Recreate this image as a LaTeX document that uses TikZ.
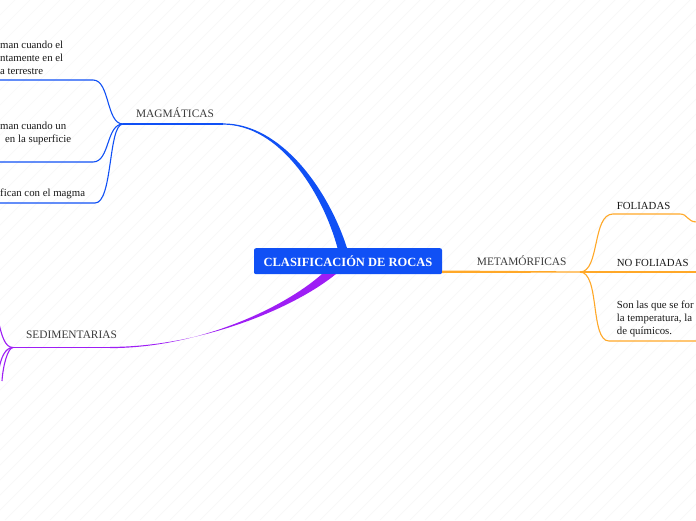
\documentclass[tikz,border=0pt]{standalone}
\usepackage{fontspec}
\setmainfont{Liberation Serif}
\usetikzlibrary{calc}
\definecolor{mblue}{RGB}{16,80,245}
\definecolor{mpurple}{RGB}{158,30,245}
\definecolor{morange}{RGB}{255,168,40}
\definecolor{lbl}{RGB}{60,60,60}
\definecolor{txt}{RGB}{25,25,25}
\definecolor{stripe}{RGB}{248,248,248}
\begin{document}
\begin{tikzpicture}[x=1pt,y=-1pt,
  lblnode/.style={inner sep=0pt,text=lbl,font=\fontsize{11.4}{13}\selectfont},
  txtnode/.style={inner sep=0pt,text=txt,align=left,anchor=west,font=\fontsize{10.8}{13}\selectfont},
  thin branch/.style={line width=1.1pt},
]
\useasboundingbox (0,0) rectangle (696,520);
\fill[white] (0,0) rectangle (696,520);
\begin{scope}
\clip (0,0) rectangle (696,520);
\foreach \i in {-520,-505,...,700} \draw[stripe,line width=0.7pt] (\i,520) -- (\i+520,0);
\end{scope}

% root
\node[fill=mblue,rounded corners=2pt,minimum width=188pt,minimum height=26pt,inner sep=0pt,
      text=white,font=\bfseries\fontsize{12.5}{14}\selectfont] (root) at (348,261.2) {CLASIFICACIÓN DE ROCAS};

% ---------- MAGMATICAS (blue) ----------
\coordinate (mend) at (223,124);
\coordinate (mjoint) at (123,124);
\node[lblnode] (magm) at (175,112.3) {MAGMÁTICAS};
\fill[mblue] ($(mend)+(0,-0.6)$) .. controls (281,123.4) and (328,189) .. (root.north -| 347,0)
  -- (root.north -| 337.5,0) .. controls (322,191) and (279,124.6) .. ($(mend)+(0,0.6)$) -- cycle;
\draw[mblue,thin branch] (mjoint) -- (mend);
\coordinate (m1) at (93,80); \coordinate (m1e) at (0,80);
\coordinate (m2) at (93,162); \coordinate (m2e) at (0,162);
\coordinate (m3) at (95,203); \coordinate (m3e) at (0,203);
\draw[mblue,thin branch] (mjoint) .. controls (106,124) and (110,80) .. (m1) -- (m1e);
\draw[mblue,thin branch] (mjoint) .. controls (106,124) and (110,162) .. (m2) -- (m2e);
\draw[mblue,thin branch] (mjoint) .. controls (108,124) and (113,203) .. (m3) -- (m3e);
\node[txtnode] (mt1) at (0,57.7) {man cuando el\\ntamente en el\\a terrestre};
\node[txtnode] (mt2) at (0,133.3) {man cuando un\\\hspace*{5pt}en la superficie};
\node[txtnode] (mt3) at (0,194.3) {fican con el magma};

% ---------- SEDIMENTARIAS (purple) ----------
\coordinate (send) at (110,347.5);
\coordinate (sjoint) at (13,347.5);
\node[lblnode] (sedi) at (71.5,335) {SEDIMENTARIAS};
\fill[mpurple] ($(send)+(0,-0.6)$) .. controls (200,346.9) and (293,309) .. (336,274)
  -- (322,274) .. controls (285,307) and (200,348.1) .. ($(send)+(0,0.6)$) -- cycle;
\draw[mpurple,thin branch] (sjoint) -- (send);
\coordinate (s1e) at (-1,324);
\coordinate (s2e) at (-1,369);
\coordinate (s3e) at (2,381);
\draw[mpurple,thin branch] (sjoint) .. controls (5,347.5) and (2,336) .. (s1e);
\draw[mpurple,thin branch] (sjoint) .. controls (5,347.5) and (1,358) .. (s2e);
\draw[mpurple,thin branch] (sjoint) .. controls (8,347.5) and (3,365) .. (s3e);

% ---------- METAMORFICAS (orange) ----------
\coordinate (ojoint) at (580,272);
\node[lblnode] (meta) at (521.7,260.7) {METAMÓRFICAS};
\fill[morange] (root.east |- 0,270.5) -- ($(ojoint)+(0,-0.6)$) -- ($(ojoint)+(0,0.6)$) -- (root.east |- 0,273) -- cycle;
\coordinate (o1) at (613,214); \coordinate (o1b) at (680,214); \coordinate (o1e) at (697,222);
\coordinate (o2e) at (697,272);
\coordinate (o3) at (609,341); \coordinate (o3e) at (697,341);
\draw[morange,thin branch] (ojoint) .. controls (600,272) and (592,214) .. (o1) -- (o1b) .. controls (688,214) and (687,222) .. (o1e);
\draw[morange,thin branch] (ojoint) -- (o2e);
\draw[morange,thin branch] (ojoint) .. controls (600,272) and (590,341) .. (o3) -- (o3e);
\node[txtnode] (foli) at (616.7,205.7) {FOLIADAS};
\node[txtnode] (nofoli) at (616.7,263) {NO FOLIADAS};
\node[txtnode] (ot3) at (616.7,318.9) {Son las que se for\\la temperatura, la\\de químicos.};
\end{tikzpicture}
\end{document}
